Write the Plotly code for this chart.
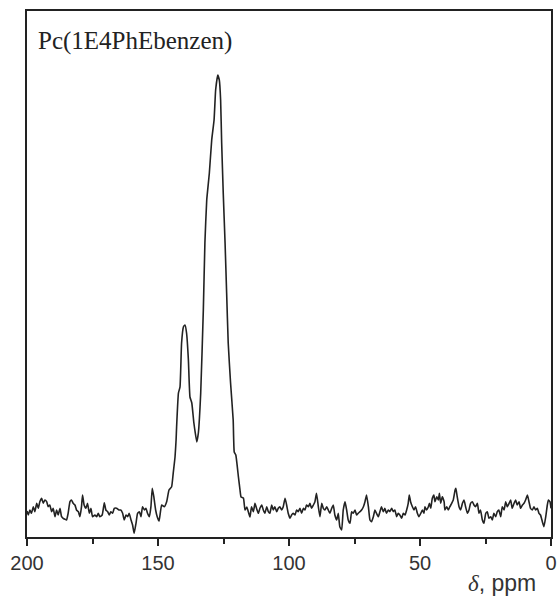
import plotly.graph_objects as go

# chemical shift (ppm) and intensity (arbitrary units)
ppm = [
    200.0, 199.5, 198.9, 198.3, 197.6, 197.0, 196.3, 195.7, 195.1, 194.4, 193.8, 193.2, 192.5, 191.9,
    191.3, 190.6, 190.0, 189.3, 188.7, 188.1, 187.4, 186.8, 186.2, 185.5, 184.9, 184.3, 183.6, 183.0,
    182.4, 181.7, 181.1, 180.4, 179.8, 179.2, 178.8, 178.2, 177.5, 176.9, 176.2, 175.6, 175.0, 174.1,
    173.4, 172.8, 172.2, 171.3, 170.5, 169.9, 169.2, 168.6, 168.0, 167.3, 166.7, 165.8, 164.9, 164.2,
    163.5, 162.9, 162.2, 161.6, 161.0, 160.3, 159.7, 159.1, 158.4, 157.8, 157.1, 156.5, 155.9, 155.2,
    154.6, 154.0, 153.3, 152.7, 152.2, 151.6, 150.9, 150.3, 149.6, 148.6, 147.6, 146.7, 145.8, 144.8,
    144.2, 143.5, 143.1, 142.9, 142.2, 141.6, 141.0, 140.3, 139.7, 139.1, 138.4, 137.8, 137.1, 136.3,
    135.2, 134.6, 133.7, 132.7, 132.1, 131.4, 130.4, 129.5, 128.6, 128.0, 127.2, 126.6, 126.1, 125.7,
    125.1, 124.4, 123.8, 123.2, 122.3, 121.3, 120.9, 120.3, 119.3, 118.7, 118.3, 117.4, 116.8, 116.1,
    115.5, 114.9, 114.3, 113.6, 113.0, 112.4, 111.7, 111.1, 110.4, 109.8, 109.2, 108.5, 107.9, 107.3,
    106.6, 106.0, 105.4, 104.7, 104.1, 103.5, 102.8, 102.2, 101.5, 100.9, 100.3, 99.6, 99.0, 98.4,
    97.7, 97.1, 96.5, 95.8, 95.2, 94.5, 93.9, 93.3, 92.6, 92.0, 91.4, 90.7, 90.1, 89.5, 88.8, 88.2,
    87.5, 86.9, 86.3, 85.6, 85.0, 84.4, 83.7, 83.1, 82.5, 81.8, 81.2, 80.6, 79.9, 79.3, 78.6, 78.0,
    77.4, 76.7, 76.1, 75.5, 74.8, 74.2, 73.6, 72.9, 72.3, 71.6, 71.0, 70.4, 69.7, 69.1, 68.5, 67.8,
    67.2, 66.6, 65.9, 65.3, 64.7, 64.0, 63.4, 62.8, 62.1, 61.5, 60.8, 60.2, 59.6, 58.9, 58.3, 57.7,
    57.0, 56.4, 55.7, 55.1, 54.5, 54.1, 53.6, 52.9, 52.3, 51.7, 51.0, 50.4, 49.7, 49.1, 48.5, 48.1,
    47.5, 46.8, 46.4, 45.9, 45.3, 44.7, 44.3, 43.6, 43.0, 42.6, 42.1, 41.5, 40.8, 40.5, 39.8, 39.2,
    38.6, 37.9, 37.3, 36.6, 36.3, 35.8, 35.1, 34.5, 33.8, 33.2, 32.6, 31.9, 31.3, 30.7, 30.0, 29.4,
    28.8, 28.1, 27.5, 26.9, 26.2, 25.6, 24.9, 24.3, 23.7, 23.0, 22.4, 21.8, 21.1, 20.5, 19.9, 19.2,
    18.6, 17.9, 17.3, 16.7, 16.0, 15.4, 14.8, 14.1, 13.5, 12.9, 12.2, 11.6, 10.9, 10.3, 9.7, 9.0,
    8.4, 7.8, 7.1, 6.5, 5.9, 5.2, 4.6, 4.0, 3.3, 2.7, 2.0, 1.4, 1.0, 0.4, 0.0,
]
intensity = [
    26.0, 22.0, 27.0, 23.7, 30.3, 25.3, 33.7, 28.7, 35.3, 38.7, 33.7, 37.0, 35.3, 30.3,
    32.0, 25.3, 28.7, 20.3, 27.0, 22.0, 28.7, 20.3, 18.7, 17.7, 17.0, 23.7, 35.3, 37.0,
    33.7, 32.0, 27.0, 25.3, 20.3, 30.3, 42.0, 32.0, 28.7, 33.7, 23.7, 28.7, 20.3, 22.0,
    20.3, 23.7, 20.3, 22.0, 34.3, 27.0, 25.3, 22.0, 25.3, 23.7, 28.7, 28.7, 27.0, 27.0,
    23.7, 17.0, 22.0, 20.3, 23.7, 17.0, 12.0, 3.7, 13.7, 23.7, 25.3, 20.3, 30.3, 27.0,
    28.7, 23.7, 20.3, 30.3, 48.7, 40.3, 27.0, 20.3, 16.0, 32.0, 30.3, 35.3, 47.0, 50.3,
    63.7, 80.0, 97.0, 110.0, 144.0, 150.0, 194.0, 210.0, 212.0, 204.0, 177.0, 140.0, 134.0, 114.0,
    95.0, 104.0, 144.0, 227.0, 294.0, 337.0, 364.0, 397.0, 417.0, 447.0, 462.0, 457.0, 437.0, 394.0,
    344.0, 294.0, 244.0, 194.0, 154.0, 117.0, 85.0, 82.0, 60.0, 47.0, 40.0, 39.0, 27.0, 30.0,
    25.0, 20.0, 30.3, 25.3, 33.7, 28.7, 23.7, 28.7, 32.0, 27.0, 23.7, 30.3, 25.3, 23.7,
    32.0, 27.0, 30.3, 25.3, 28.7, 30.3, 27.0, 30.3, 38.7, 32.0, 23.7, 18.7, 22.0, 23.7,
    22.0, 27.0, 25.3, 28.7, 23.7, 28.7, 27.0, 32.0, 30.3, 33.7, 28.7, 32.0, 35.3, 43.7, 30.3, 20.3,
    33.7, 28.7, 27.0, 30.3, 27.0, 23.7, 28.7, 32.0, 22.0, 17.0, 23.7, 10.3, 7.0, 27.0, 35.3, 27.0,
    17.0, 13.7, 25.3, 23.7, 27.0, 22.0, 23.7, 25.3, 27.0, 30.3, 35.3, 42.0, 30.3, 17.0, 15.3, 20.3,
    27.0, 23.7, 20.3, 25.3, 30.3, 25.3, 28.7, 23.7, 27.0, 25.3, 28.7, 25.3, 27.0, 20.3, 23.7, 22.0,
    18.7, 23.7, 22.0, 27.0, 33.7, 42.0, 35.3, 30.3, 27.0, 30.3, 23.7, 20.3, 23.7, 27.0, 23.7, 30.3,
    27.0, 30.3, 33.7, 28.7, 38.7, 42.0, 35.3, 40.3, 37.0, 43.7, 33.7, 40.3, 35.3, 27.0, 30.3, 27.0,
    30.3, 33.7, 37.0, 47.0, 48.7, 40.3, 30.3, 27.0, 33.7, 37.0, 30.3, 23.7, 27.0, 33.7, 35.3, 32.0,
    30.3, 33.7, 23.7, 27.0, 17.0, 13.7, 23.7, 25.3, 18.7, 20.3, 17.0, 23.7, 20.3, 25.3, 27.0, 20.3,
    30.3, 27.0, 35.3, 30.3, 33.7, 37.0, 28.7, 33.7, 37.0, 32.0, 35.3, 28.7, 32.0, 33.7, 37.0, 42.0,
    35.3, 28.7, 27.0, 30.3, 27.0, 28.7, 23.7, 22.0, 15.3, 10.3, 20.3, 32.0, 37.0, 35.3, 28.7,
]

x_ticks = [200, 150, 100, 50, 0]
x_ticklabels = ["200", "150", "100", "50", "0"]
sample_label = "Pc(1E4PhEbenzen)"
x_title = "<span style='font-family:Liberation Serif, Times New Roman, serif'><i>δ</i></span>, ppm"

fig = go.Figure()
fig.add_trace(go.Scatter(
    x=ppm, y=intensity, mode="lines",
    line=dict(color="#222222", width=1.6, shape="spline", smoothing=0.4),
    hoverinfo="skip", showlegend=False,
))

fig.update_layout(
    width=557, height=599,
    margin=dict(l=27, r=6, t=11, b=62),
    paper_bgcolor="white", plot_bgcolor="white",
    xaxis=dict(
        range=[200, 0], tickvals=x_ticks, ticktext=x_ticklabels,
        automargin=False,
        showgrid=False, zeroline=False,
        showline=True, mirror=True, linecolor="#222222", linewidth=1.5,
        ticks="outside", ticklen=7, tickwidth=1.5, tickcolor="#222222",
        minor=dict(dtick=25, tick0=0, ticks="outside", ticklen=5, tickwidth=1.5,
                   tickcolor="#222222", showgrid=False),
        tickfont=dict(family="Liberation Sans, Arial, sans-serif", size=20, color="#333333"),
    ),
    yaxis=dict(
        range=[0, 526], automargin=False, showgrid=False, zeroline=False,
        showline=True, mirror=True, linecolor="#222222", linewidth=1.5,
        showticklabels=False, ticks="",
    ),
    annotations=[
        dict(text=sample_label, xref="paper", yref="paper", x=0.017, y=0.943,
             xanchor="left", yanchor="middle", showarrow=False,
             font=dict(family="Liberation Serif, Times New Roman, serif", size=25, color="#222222")),
        dict(text=x_title, xref="paper", yref="paper", x=0.975, y=-0.0875,
             xanchor="right", yanchor="middle", showarrow=False,
             font=dict(family="Liberation Sans, Arial, sans-serif", size=23, color="#333333")),
    ],
)

fig.write_html("out.html")
